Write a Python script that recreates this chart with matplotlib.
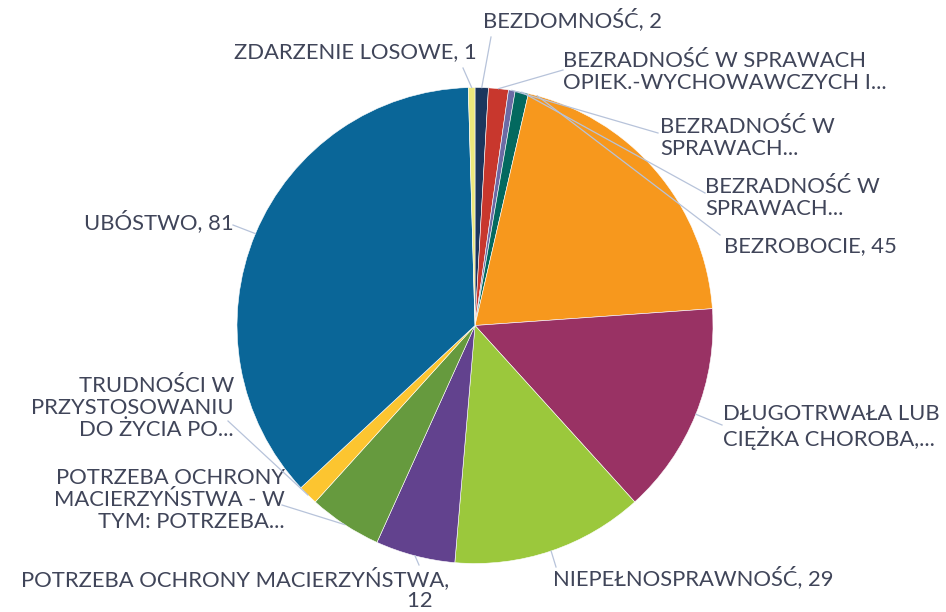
import numpy as np
import matplotlib
matplotlib.use('Agg')
import matplotlib.pyplot as plt

# Data (alphabetical, clockwise from 12 o'clock)
categories = [
    "BEZDOMNOŚĆ",
    "BEZRADNOŚĆ W SPRAWACH OPIEK.-WYCHOWAWCZYCH",
    "BEZRADNOŚĆ W SPRAWACH (2)",
    "BEZRADNOŚĆ W SPRAWACH (3)",
    "BEZROBOCIE",
    "DŁUGOTRWAŁA LUB CIĘŻKA CHOROBA",
    "NIEPEŁNOSPRAWNOŚĆ",
    "POTRZEBA OCHRONY MACIERZYŃSTWA",
    "POTRZEBA OCHRONY MACIERZYŃSTWA - W TYM",
    "TRUDNOŚCI W PRZYSTOSOWANIU",
    "UBÓSTWO",
    "ZDARZENIE LOSOWE",
]
values = [2, 3, 1, 2, 45, 32, 29, 12, 11, 3, 81, 1]
labels = [
    "BEZDOMNOŚĆ, 2",
    "BEZRADNOŚĆ W SPRAWACH\nOPIEK.-WYCHOWAWCZYCH I...",
    "BEZRADNOŚĆ W\nSPRAWACH...",
    "BEZRADNOŚĆ W\nSPRAWACH...",
    "BEZROBOCIE, 45",
    "DŁUGOTRWAŁA LUB\nCIĘŻKA CHOROBA,...",
    "NIEPEŁNOSPRAWNOŚĆ, 29",
    "POTRZEBA OCHRONY MACIERZYŃSTWA,\n12   ",
    "POTRZEBA OCHRONY\nMACIERZYŃSTWA - W\nTYM: POTRZEBA...",
    "TRUDNOŚCI W\nPRZYSTOSOWANIU\nDO ŻYCIA PO...",
    "UBÓSTWO, 81",
    "ZDARZENIE LOSOWE, 1",
]
colors = ['#1B365D', '#C8372D', '#6C6BA5', '#03695F', '#F7981D', '#993264',
          '#9BC83C', '#62428E', '#669A3E', '#FCC530', '#0A6698', '#ECE77C']

# Label layout in image pixels: (x, y, ha, leader end x, leader end y, anchor fraction in wedge)
layout = [
    (483, 20, 'left', 491, 37, 0.5),
    (563, 72, 'left', 563, 70, 0.5),
    (660, 138, 'left', 658, 133, 0.5),
    (705, 198, 'left', 705, 193, 0.5),
    (724, 246, 'left', 720, 235, 0.03),
    (723, 427, 'left', 722, 425, 0.5),
    (553, 578, 'left', 556, 567, 0.5),
    (449, 589, 'right', 419, 565, 0.5),
    (285, 500, 'right', 282, 505, 0.5),
    (234, 408, 'right', 228, 421, 0.5),
    (234, 222, 'right', 233, 225, 0.5),
    (477, 52, 'right', 463, 68, 0.5),
]

W, H = 946, 612
CX, CY, R = 475, 325.5, 238
TEXT = '#404559'
LEADER = '#B7C3DA'

plt.rcParams['font.family'] = ['Lato', 'DejaVu Sans']

fig = plt.figure(figsize=(W / 100, H / 100), dpi=100)
fig.patch.set_facecolor('white')
ax = fig.add_axes([(CX - R) / W, (H - CY - R) / H, 2 * R / W, 2 * R / H])

wedges, _ = ax.pie(values, colors=colors, startangle=90, counterclock=False,
                   radius=1, wedgeprops=dict(edgecolor='white', linewidth=0.4))
# pie() sets its own padded limits; pin them so radius 1 fills the axes
ax.set_xlim(-1, 1)
ax.set_ylim(-1, 1)
ax.set_aspect('equal')
ax.axis('off')


def px2data(px, py):
    return (px - CX) / R, (CY - py) / R


for w, lab, (tx, ty, ha, lx, ly, frac) in zip(wedges, labels, layout):
    # point on the wedge edge where the leader starts
    ang = np.deg2rad(w.theta1 + (w.theta2 - w.theta1) * (1 - frac))
    sx, sy = np.cos(ang), np.sin(ang)
    ex, ey = px2data(lx, ly)
    ax.plot([sx, ex], [sy, ey], color=LEADER, linewidth=0.9, clip_on=False, zorder=5)
    x, y = px2data(tx, ty)
    ax.text(x, y, lab, ha=ha, va='center', multialignment=ha, fontsize=15.8,
            color=TEXT, linespacing=1.1, clip_on=False)

fig.savefig('out.png', dpi=100, facecolor='white')
